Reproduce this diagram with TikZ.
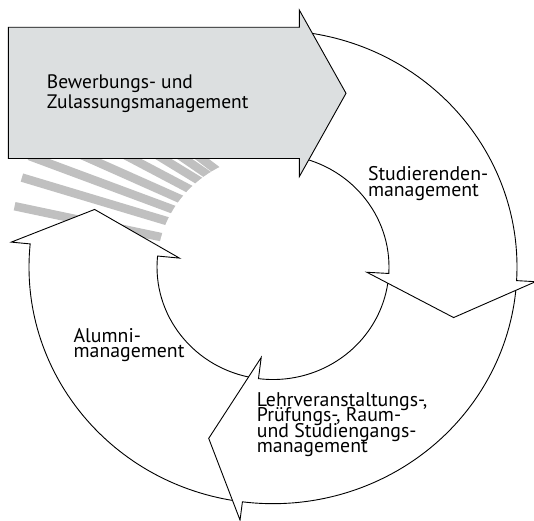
\documentclass[tikz,border=0pt]{standalone}
\usepackage{fontspec}
\setmainfont{PT Sans}
\definecolor{blockgray}{RGB}{220,223,224}
\definecolor{stripegray}{RGB}{192,192,192}
\setlength{\lineskiplimit}{-100pt}

\begin{document}
\begin{tikzpicture}[x=1pt,y=1pt,
  segment/.style={draw=black,fill=white,line width=0.9pt,line join=miter},
  stripe/.style={draw=stripegray,line width=8.5pt},
  blockarrow/.style={draw=black,fill=blockgray,line width=0.9pt},
  label/.style={anchor=base west,inner sep=0pt,align=left,font=\fontsize{19.8}{15.5}\selectfont}]
\useasboundingbox (0,0) rectangle (534,520);

\coordinate (center) at (273,253);
\coordinate (focus) at (360,241);

% stripes, cut off at the inner circle
\draw[stripe] (focus) -- ++(168.1:353);
\draw[stripe] (focus) -- ++(163.3:353);
\draw[stripe] (focus) -- ++(159.6:353);
\draw[stripe] (focus) -- ++(156.0:353);
\draw[stripe] (focus) -- ++(152.2:353);
\draw[stripe] (focus) -- ++(148.6:353);
\draw[stripe] (focus) -- ++(145.6:353);
\draw[stripe] (focus) -- ++(142.8:353);
\fill[white] (center) ellipse[x radius=116,y radius=112.5];

% ring pieces; each one starts under the head of the one before
\begin{scope}[shift={(center)},yscale=0.97]
\filldraw[segment] (261:244) arc[start angle=261,end angle=174.4,radius=244]
  -- (174.4:263) -- (161.6:188) -- (174.4:94) -- (174.4:116)
  arc[start angle=174.4,end angle=261,radius=116] -- cycle; % alumni

\filldraw[segment] (-5:244) arc[start angle=-5,end angle=-97.2,radius=244]
  -- (-97.2:263) -- (-110:188) -- (-97.2:94) -- (-97.2:116)
  arc[start angle=-97.2,end angle=-5,radius=116] -- cycle; % lehre

\filldraw[segment] (82:244) arc[start angle=82,end angle=-3.3,radius=244]
  -- (-3.3:263) -- (-16.1:188) -- (-3.3:94) -- (-3.3:116)
  arc[start angle=-3.3,end angle=82,radius=116] -- cycle; % studierende
\end{scope}

% big arrow on top
\filldraw[blockarrow] (8.3,492.7) -- (299.3,492.7) -- (299.3,510) -- (346,426.7)
  -- (299.3,343.3) -- (299.3,361.5) -- (8.3,361.5) -- cycle;

% texts, placed at the baseline of their last line
\node[label,font=\fontsize{19.5}{19.5}\selectfont] (bewerbung) at (46.7,411.7) {Bewerbungs- und\\Zulassungsmanagement};
\node[label] (studierende) at (367.8,323.5) {Studierenden-\\management};
\node[label] (alumni) at (73.4,162.5) {Alumni-\\management};
\node[label] (lehre) at (256.7,67.3) {Lehrveranstaltungs-,\\Prüfungs-, Raum-\\und Studiengangs-\\management};

\end{tikzpicture}
\end{document}
